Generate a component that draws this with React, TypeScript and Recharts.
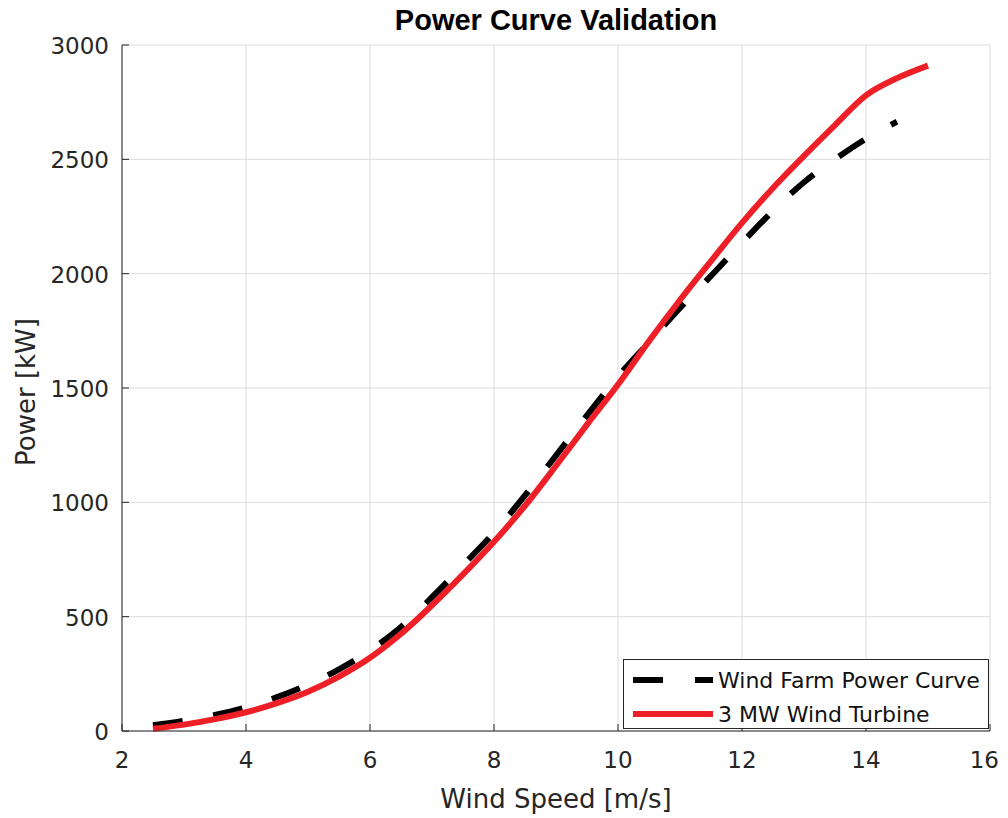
import { CartesianGrid, Label, Line, LineChart, XAxis, YAxis } from 'recharts';

const windSpeed = [2.5, 3, 3.5, 4, 4.5, 5, 5.5, 6, 6.5, 7, 7.5, 8, 8.5, 9, 9.5, 10, 10.5, 11, 11.5, 12, 12.5, 13, 13.5, 14, 14.5, 15];
const farmPower = [25, 45, 70, 103, 148, 203, 270, 352, 455, 585, 725, 868, 1030, 1205, 1380, 1550, 1700, 1850, 1990, 2135, 2275, 2400, 2500, 2590, 2665, null];
const turbinePower = [10, 28, 52, 82, 122, 172, 238, 320, 425, 550, 685, 828, 985, 1160, 1340, 1515, 1705, 1885, 2055, 2222, 2375, 2515, 2650, 2780, 2855, 2910];

const xTicks = [2, 4, 6, 8, 10, 12, 14, 16];
const yTicks = [0, 500, 1000, 1500, 2000, 2500, 3000];

const seriesNames = ['Wind Farm Power Curve', '3 MW Wind Turbine'];

const data = windSpeed.map((s, i) => ({ speed: s, farm: farmPower[i], turbine: turbinePower[i] }));

const AXIS = '#262626';
const RED = '#ee1f26';
const FONT = '"DejaVu Sans", sans-serif';

// eslint-disable-next-line @typescript-eslint/no-explicit-any
const YTick = ({ x, y, payload }: any) => (
  <g>
    <line x1={x + 13} x2={x + 20} y1={y} y2={y} stroke={AXIS} />
    <text x={x} y={y} dy={9} textAnchor='end' fontSize={23} fill={AXIS} fontFamily={FONT}>
      {payload.value}
    </text>
  </g>
);

// eslint-disable-next-line @typescript-eslint/no-explicit-any
const XTick = ({ x, y, payload, index }: any) => {
  // last label sits on the page edge, keep it inside
  const last = index === xTicks.length - 1;
  return (
    <g>
      <line x1={x} x2={x} y1={y - 12} y2={y - 19} stroke={AXIS} />
      <text
        x={last ? x + 9 : x}
        y={y}
        dy={25}
        textAnchor={last ? 'end' : 'middle'}
        fontSize={23}
        fill={AXIS}
        fontFamily={FONT}
      >
        {payload.value}
      </text>
    </g>
  );
};

export default function App() {
  return (
    <div style={{ position: 'relative', width: 1000, height: 810, background: '#fff' }}>
      <div
        style={{
          position: 'absolute',
          left: 114,
          width: 868,
          top: -2,
          textAlign: 'center',
          fontFamily: '"Liberation Sans", Arial, sans-serif',
          fontWeight: 'bold',
          fontSize: 29,
          lineHeight: '29px',
          color: '#000',
        }}
      >
        Power Curve Validation
      </div>
      <LineChart width={1000} height={810} data={data} margin={{ top: 37, right: 18, bottom: 0, left: 0 }}>
        <CartesianGrid stroke='#dcdcdc' />
        <XAxis
          type='number'
          dataKey='speed'
          domain={[2, 16]}
          ticks={xTicks}
          height={87}
          stroke={AXIS}
          tickSize={0}
          tickMargin={12}
          tick={<XTick />}
          interval={0}
        >
          <Label
            content={({ viewBox }: any) => (
              <text
                x={viewBox.x + viewBox.width / 2}
                y={viewBox.y + 77}
                textAnchor='middle'
                fontSize={26}
                fill={AXIS}
                fontFamily={FONT}
              >
                Wind Speed [m/s]
              </text>
            )}
          />
        </XAxis>
        <YAxis
          type='number'
          domain={[0, 3000]}
          ticks={yTicks}
          width={114}
          stroke={AXIS}
          tickSize={0}
          tickMargin={13}
          tick={<YTick />}
          interval={0}
        >
          <Label
            content={({ viewBox }: any) => {
              const cx = 27;
              const cy = viewBox.y + viewBox.height / 2 + 4;
              return (
                <text
                  x={cx}
                  y={cy}
                  transform={`rotate(-90 ${cx} ${cy})`}
                  textAnchor='middle'
                  fontSize={26}
                  fill={AXIS}
                  fontFamily={FONT}
                >
                  Power [kW]
                </text>
              );
            }}
          />
        </YAxis>
        <Line
          dataKey='farm'
          type='monotone'
          stroke='#000'
          strokeWidth={6}
          strokeDasharray='30 31'
          dot={false}
          isAnimationActive={false}
        />
        <Line
          dataKey='turbine'
          type='monotone'
          stroke={RED}
          strokeWidth={6}
          dot={false}
          isAnimationActive={false}
        />
      </LineChart>
      <div
        style={{
          position: 'absolute',
          left: 615,
          top: 651,
          width: 366,
          height: 70,
          boxSizing: 'border-box',
          border: `1px solid ${AXIS}`,
          background: '#fff',
          paddingTop: 3,
          fontFamily: FONT,
          fontSize: 22,
          color: '#111',
        }}
      >
        {seriesNames.map((name, i) => (
          <div key={name} style={{ display: 'flex', alignItems: 'center', height: 34 }}>
            <svg width={94} height={10} style={{ flex: 'none' }}>
              <line
                x1={9}
                x2={89}
                y1={5}
                y2={5}
                stroke={i === 0 ? '#000' : RED}
                strokeWidth={6}
                strokeDasharray={i === 0 ? '30 32' : undefined}
              />
            </svg>
            <span style={{ whiteSpace: 'nowrap' }}>{name}</span>
          </div>
        ))}
      </div>
    </div>
  );
}
